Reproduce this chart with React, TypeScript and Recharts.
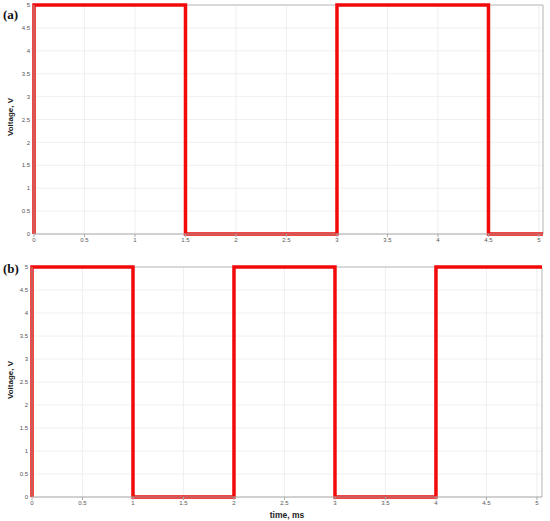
import React from "react";
import { LineChart, Line, XAxis, YAxis, CartesianGrid, ReferenceLine } from "recharts";

const timeA = [0, 0, 1.5, 1.5, 3, 3, 4.5, 4.5, 5.04];
const voltA = [0, 5, 5, 0, 0, 5, 5, 0, 0];
const timeB = [0, 0, 1, 1, 2, 2, 3, 3, 4, 4, 5.05];
const voltB = [0, 5, 5, 0, 0, 5, 5, 0, 0, 5, 5];
const xTicks = [0, 0.5, 1, 1.5, 2, 2.5, 3, 3.5, 4, 4.5, 5];
const yTicks = [0, 0.5, 1, 1.5, 2, 2.5, 3, 3.5, 4, 4.5, 5];
const panelLabels = ["(a)", "(b)"];
const yLabel = "Voltage, V";
const xLabel = "time, ms";

const build = (t: number[], v: number[]) => t.map((x, i) => ({ t: x, v: v[i] }));

const tickStyle = { fontSize: 6, fill: "#555", fontFamily: "Liberation Sans, Arial, sans-serif" };

function Panel(props: {
  data: { t: number; v: number }[];
  xMax: number;
  top: number;
  height: number;
  yAxisWidth: number;
  marginTop: number;
  xAxisHeight: number;
  showXLabel: boolean;
}) {
  const { data, xMax, top, height, yAxisWidth, marginTop, xAxisHeight, showXLabel } = props;
  return (
    <div style={{ position: "absolute", left: 0, top, width: 550, height }}>
      <LineChart
        width={550}
        height={height}
        data={data}
        margin={{ top: marginTop, right: 550 - yAxisWidth - Math.round(101 * xMax), left: 0, bottom: 0 }}
      >
        <CartesianGrid stroke="#ececec" strokeWidth={0.8} />
        <XAxis
          dataKey="t"
          type="number"
          domain={[0, xMax]}
          ticks={xTicks}
          tick={tickStyle}
          tickSize={3}
          tickMargin={1}
          height={xAxisHeight}
          stroke="#aaa"
          label={
            showXLabel
              ? {
                  value: xLabel,
                  position: "insideBottom",
                  offset: 3,
                  style: { fontSize: 8.5, fontWeight: 700, fill: "#222", fontFamily: "Liberation Sans, Arial, sans-serif" },
                }
              : undefined
          }
        />
        <YAxis
          dataKey="v"
          type="number"
          domain={[0, 5]}
          ticks={yTicks}
          tick={tickStyle}
          tickSize={0}
          tickMargin={4}
          width={yAxisWidth}
          stroke="#aaa"
          interval={0}
        />
        <ReferenceLine x={xMax} stroke="#bbb" strokeWidth={1} />
        <ReferenceLine y={5} stroke="#bbb" strokeWidth={1} />
        <Line
          type="linear"
          dataKey="v"
          stroke="#f20a0a"
          strokeWidth={3.5}
          dot={false}
          isAnimationActive={false}
        />
      </LineChart>
    </div>
  );
}

const yLabelStyle = (cx: number, cy: number): React.CSSProperties => ({
  position: "absolute",
  left: cx - 40,
  top: cy - 6,
  width: 80,
  height: 12,
  lineHeight: "12px",
  textAlign: "center",
  transform: "rotate(-90deg)",
  fontFamily: "Liberation Sans, Arial, sans-serif",
  fontWeight: 700,
  fontSize: 8,
  color: "#222",
  whiteSpace: "nowrap",
});

const panelLabelStyle = (top: number): React.CSSProperties => ({
  position: "absolute",
  left: 3,
  top,
  fontFamily: "Liberation Serif, Times New Roman, serif",
  fontWeight: 700,
  fontSize: 13,
  color: "#111",
  lineHeight: "14px",
});

export default function App() {
  return (
    <div style={{ position: "absolute", left: 0, top: 0, width: 550, height: 521, background: "#fff", overflow: "hidden" }}>
      <Panel data={build(timeA, voltA)} xMax={5.04} top={0} height={250} yAxisWidth={34} marginTop={5} xAxisHeight={16} showXLabel={false} />
      <Panel data={build(timeB, voltB)} xMax={5.05} top={260} height={261} yAxisWidth={32} marginTop={7} xAxisHeight={24} showXLabel={true} />
      <div style={panelLabelStyle(8)}>{panelLabels[0]}</div>
      <div style={panelLabelStyle(262)}>{panelLabels[1]}</div>
      <div style={yLabelStyle(11, 117)}>{yLabel}</div>
      <div style={yLabelStyle(11, 380)}>{yLabel}</div>
    </div>
  );
}
